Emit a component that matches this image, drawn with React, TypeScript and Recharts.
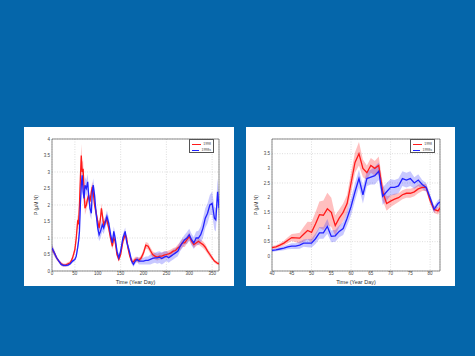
import { ComposedChart, Area, Line, XAxis, YAxis, CartesianGrid, ReferenceArea } from 'recharts'

// full-year panel (left)
const yearDays = [0, 5, 10, 15, 20, 25, 30, 35, 40, 45, 50, 53, 56, 58, 60, 62, 64, 66, 68, 70, 72, 75, 78, 80, 83, 86, 88, 90, 93, 96, 100, 103, 106, 108, 110, 113, 116, 120, 124, 128, 132, 135, 138, 142, 146, 150, 155, 160, 163, 166, 170, 174, 178, 182, 186, 190, 195, 200, 205, 210, 215, 220, 225, 230, 235, 240, 245, 250, 255, 260, 265, 270, 275, 280, 285, 290, 295, 300, 305, 310, 315, 320, 325, 330, 335, 340, 345, 350, 355, 358, 362, 365]
const yearRed = [0.68, 0.55, 0.4, 0.3, 0.22, 0.18, 0.18, 0.22, 0.25, 0.4, 0.65, 1.0, 1.5, 1.45, 2.0, 2.8, 3.5, 3.0, 3.1, 2.5, 1.9, 2.0, 2.2, 2.3, 2.1, 2.4, 2.55, 2.4, 2.0, 1.8, 1.5, 1.3, 1.6, 1.9, 1.7, 1.4, 1.5, 1.55, 1.3, 1.0, 0.75, 1.0, 0.9, 0.5, 0.35, 0.5, 0.9, 1.1, 1.0, 0.7, 0.45, 0.3, 0.28, 0.35, 0.35, 0.32, 0.4, 0.55, 0.78, 0.75, 0.62, 0.5, 0.45, 0.42, 0.45, 0.45, 0.48, 0.5, 0.52, 0.55, 0.6, 0.62, 0.7, 0.75, 0.85, 0.85, 0.95, 1.05, 0.9, 0.8, 0.85, 0.9, 0.85, 0.8, 0.72, 0.6, 0.5, 0.4, 0.3, 0.27, 0.23, 0.22]
const yearRedErr = [0.1, 0.08, 0.06, 0.05, 0.05, 0.05, 0.05, 0.05, 0.05, 0.08, 0.1, 0.15, 0.2, 0.2, 0.25, 0.3, 0.35, 0.3, 0.25, 0.2, 0.2, 0.15, 0.15, 0.15, 0.15, 0.15, 0.15, 0.15, 0.15, 0.15, 0.12, 0.12, 0.15, 0.15, 0.15, 0.12, 0.12, 0.12, 0.12, 0.12, 0.1, 0.1, 0.1, 0.08, 0.08, 0.08, 0.1, 0.1, 0.1, 0.1, 0.08, 0.08, 0.08, 0.08, 0.08, 0.08, 0.08, 0.1, 0.1, 0.1, 0.1, 0.1, 0.1, 0.1, 0.1, 0.1, 0.1, 0.1, 0.1, 0.1, 0.1, 0.1, 0.1, 0.12, 0.12, 0.12, 0.12, 0.12, 0.1, 0.1, 0.1, 0.1, 0.1, 0.1, 0.1, 0.08, 0.08, 0.06, 0.05, 0.05, 0.05, 0.05]
const yearBlue = [0.7, 0.55, 0.4, 0.3, 0.2, 0.17, 0.17, 0.18, 0.22, 0.3, 0.35, 0.45, 0.7, 0.9, 1.2, 2.0, 2.6, 2.9, 2.4, 2.2, 2.6, 2.5, 2.7, 2.3, 1.9, 1.75, 2.4, 2.6, 2.3, 1.8, 1.3, 1.1, 1.2, 1.3, 1.4, 1.3, 1.45, 1.65, 1.45, 1.1, 0.85, 1.2, 1.0, 0.6, 0.4, 0.6, 1.0, 1.2, 0.9, 0.75, 0.55, 0.3, 0.2, 0.3, 0.35, 0.3, 0.3, 0.3, 0.32, 0.32, 0.35, 0.38, 0.4, 0.4, 0.42, 0.38, 0.42, 0.45, 0.4, 0.45, 0.5, 0.55, 0.6, 0.75, 0.85, 0.95, 1.0, 1.1, 0.95, 0.85, 1.0, 1.0, 1.1, 1.3, 1.6, 1.75, 2.0, 2.05, 1.6, 1.55, 2.4, 1.9]
const yearBlueErr = [0.12, 0.1, 0.06, 0.05, 0.05, 0.04, 0.04, 0.04, 0.04, 0.05, 0.05, 0.08, 0.1, 0.15, 0.2, 0.25, 0.3, 0.3, 0.25, 0.25, 0.25, 0.25, 0.25, 0.2, 0.2, 0.2, 0.2, 0.2, 0.2, 0.2, 0.2, 0.2, 0.2, 0.2, 0.2, 0.18, 0.18, 0.18, 0.18, 0.15, 0.15, 0.15, 0.15, 0.12, 0.1, 0.1, 0.12, 0.12, 0.12, 0.1, 0.1, 0.08, 0.08, 0.08, 0.08, 0.1, 0.1, 0.1, 0.12, 0.12, 0.15, 0.15, 0.15, 0.18, 0.18, 0.18, 0.18, 0.15, 0.15, 0.15, 0.15, 0.15, 0.15, 0.15, 0.15, 0.15, 0.18, 0.18, 0.18, 0.18, 0.2, 0.22, 0.25, 0.3, 0.3, 0.3, 0.3, 0.35, 0.35, 0.35, 0.4, 0.4]
const yearTicksX = [0, 50, 100, 150, 200, 250, 300, 350]
const yearTicksY = [0, 0.5, 1, 1.5, 2, 2.5, 3, 3.5, 4]

// bloom close-up panel (right)
const bloomDays = [40, 41, 42, 43, 44, 45, 46, 47, 48, 49, 50, 51, 52, 53, 54, 55, 56, 57, 58, 59, 60, 61, 62, 63, 64, 65, 66, 67, 68, 69, 70, 71, 72, 73, 74, 75, 76, 77, 78, 79, 80, 81, 82, 82.5]
const bloomRed = [0.3, 0.32, 0.38, 0.45, 0.55, 0.64, 0.63, 0.62, 0.75, 0.88, 0.82, 1.1, 1.42, 1.4, 1.62, 1.5, 1.05, 1.3, 1.5, 1.8, 2.5, 3.2, 3.5, 3.0, 2.85, 3.1, 3.0, 3.1, 2.2, 1.8, 1.88, 1.95, 2.0, 2.1, 2.15, 2.15, 2.2, 2.3, 2.35, 2.35, 1.9, 1.6, 1.55, 1.65]
const bloomRedErr = [0.05, 0.06, 0.07, 0.08, 0.1, 0.12, 0.15, 0.18, 0.25, 0.3, 0.35, 0.4, 0.45, 0.5, 0.55, 0.5, 0.35, 0.3, 0.3, 0.3, 0.35, 0.35, 0.4, 0.3, 0.25, 0.25, 0.25, 0.3, 0.3, 0.25, 0.2, 0.18, 0.15, 0.15, 0.15, 0.15, 0.15, 0.15, 0.12, 0.12, 0.12, 0.12, 0.12, 0.12]
const bloomBlue = [0.2, 0.22, 0.25, 0.28, 0.32, 0.35, 0.35, 0.38, 0.45, 0.45, 0.45, 0.6, 0.8, 0.8, 1.02, 0.68, 0.7, 0.85, 0.95, 1.3, 1.7, 2.2, 2.65, 2.1, 2.65, 2.7, 2.75, 2.9, 2.05, 2.2, 2.35, 2.35, 2.4, 2.65, 2.6, 2.65, 2.5, 2.6, 2.45, 2.35, 2.0, 1.6, 1.8, 1.85]
const bloomBlueErr = [0.05, 0.05, 0.06, 0.07, 0.08, 0.1, 0.1, 0.12, 0.12, 0.14, 0.15, 0.18, 0.2, 0.2, 0.25, 0.2, 0.2, 0.2, 0.22, 0.25, 0.3, 0.3, 0.3, 0.3, 0.25, 0.25, 0.3, 0.3, 0.3, 0.3, 0.28, 0.25, 0.25, 0.25, 0.25, 0.25, 0.2, 0.2, 0.15, 0.15, 0.12, 0.12, 0.12, 0.12]
const bloomTicksX = [40, 45, 50, 55, 60, 65, 70, 75, 80]
const bloomTicksY = [0, 0.5, 1, 1.5, 2, 2.5, 3, 3.5]

const seriesNames = ['1998', '1998s']
const RED = '#ff1a1a'
const BLUE = '#2222ff'
const FONT = '"Liberation Sans", Arial, sans-serif'

function buildRows(days: number[], red: number[], redErr: number[], blue: number[], blueErr: number[]) {
  return days.map((d, i) => ({
    day: d,
    red: red[i],
    blue: blue[i],
    redBand: [red[i] - redErr[i], red[i] + redErr[i]],
    blueBand: [blue[i] - blueErr[i], blue[i] + blueErr[i]],
  }))
}

const yearRows = buildRows(yearDays, yearRed, yearRedErr, yearBlue, yearBlueErr)
const bloomRows = buildRows(bloomDays, bloomRed, bloomRedErr, bloomBlue, bloomBlueErr)

function YLabel(props: any) {
  const vb = props.viewBox || {}
  const x = vb.x + (props.dx ?? 14)
  const y = vb.y + vb.height / 2
  return (
    <text x={x} y={y} transform={`rotate(-90, ${x}, ${y})`} textAnchor="middle" fontSize={5} fill="#333" fontFamily={FONT}>
      P (μM N)
    </text>
  )
}

function XLabel(props: any) {
  const vb = props.viewBox || {}
  return (
    <text x={vb.x + vb.width / 2} y={vb.y + 12.5} textAnchor="middle" fontSize={5.5} fill="#333" fontFamily={FONT}>
      Time (Year Day)
    </text>
  )
}

function LegendBox({ right }: { right: number }) {
  return (
    <div style={{ position: 'absolute', top: 12, right, border: '0.6px solid #555', background: '#fff', width: 25, height: 14, boxSizing: 'border-box', padding: '1px 2px', fontFamily: FONT, fontSize: 3.5, color: '#444' }}>
      {seriesNames.map((n, i) => (
        <div key={n} style={{ display: 'flex', alignItems: 'center', height: 6 }}>
          <div style={{ width: 10, height: 1, background: i === 0 ? RED : BLUE, marginRight: 2 }} />
          <span>{n}</span>
        </div>
      ))}
    </div>
  )
}

function Panel({ rows, xDomain, yDomain, xTicks, yTicks, width, yAxisWidth, labelDx }: any) {
  return (
    <div style={{ position: 'relative', width, height: 159 }}>
      <ComposedChart width={width} height={159} data={rows} margin={{ top: 12, right: 15, left: 0, bottom: 0 }}>
        <CartesianGrid stroke="#c8c8c8" strokeDasharray="1 1.5" strokeWidth={0.6} />
        <XAxis
          type="number"
          dataKey="day"
          domain={xDomain}
          ticks={xTicks}
          allowDataOverflow
          axisLine={false}
          tickLine={false}
          tickSize={0}
          tickMargin={1}
          height={15}
          tick={{ fontSize: 4.5, fill: '#444', fontFamily: FONT }}
          label={<XLabel />}
        />
        <YAxis
          type="number"
          domain={yDomain}
          ticks={yTicks}
          allowDataOverflow
          axisLine={false}
          tickLine={false}
          tickSize={0}
          tickMargin={2}
          width={yAxisWidth}
          tick={{ fontSize: 4.5, fill: '#444', fontFamily: FONT }}
          label={<YLabel dx={labelDx} />}
        />
        <Area dataKey="redBand" stroke="none" fill={RED} fillOpacity={0.28} isAnimationActive={false} />
        <Area dataKey="blueBand" stroke="none" fill={BLUE} fillOpacity={0.25} isAnimationActive={false} />
        <Line dataKey="red" stroke={RED} strokeWidth={1.3} dot={false} isAnimationActive={false} />
        <Line dataKey="blue" stroke={BLUE} strokeWidth={1.3} dot={false} isAnimationActive={false} />
        <ReferenceArea x1={xDomain[0]} x2={xDomain[1]} y1={yDomain[0]} y2={yDomain[1]} fill="none" stroke="#444" strokeWidth={0.6} ifOverflow="visible" />
      </ComposedChart>
      <LegendBox right={20} />
    </div>
  )
}

export default function App() {
  return (
    <div style={{ position: 'absolute', left: 0, top: 0, width: 475, height: 356, background: '#0566aa', overflow: 'hidden' }}>
      <div style={{ position: 'absolute', left: 24, top: 127, width: 210, height: 159, background: '#fff' }}>
        <Panel rows={yearRows} xDomain={[0, 365]} yDomain={[0, 4]} xTicks={yearTicksX} yTicks={yearTicksY} width={210} yAxisWidth={28} labelDx={14} />
      </div>
      <div style={{ position: 'absolute', left: 246, top: 127, width: 209, height: 159, background: '#fff' }}>
        <Panel rows={bloomRows} xDomain={[40, 82.5]} yDomain={[-0.5, 4]} xTicks={bloomTicksX} yTicks={bloomTicksY} width={209} yAxisWidth={26} labelDx={12} />
      </div>
    </div>
  )
}
